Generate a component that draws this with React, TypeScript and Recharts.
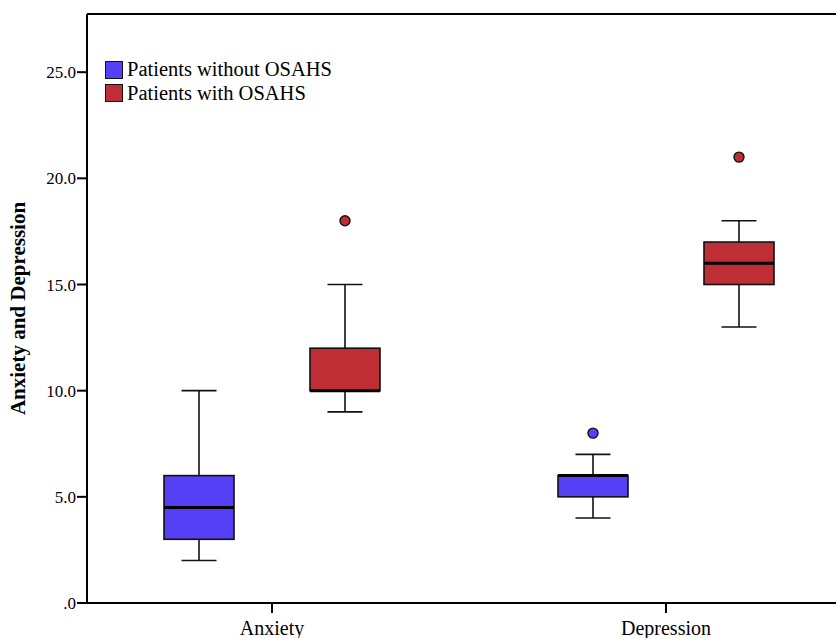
import { Bar, BarChart, Legend, ReferenceLine, XAxis, YAxis } from "recharts";

const categories = ["Anxiety", "Depression"];
const seriesNames = ["Patients without OSAHS", "Patients with OSAHS"];

// box statistics per category
const withoutLow = [2, 4];
const withoutQ1 = [3, 5];
const withoutMedian = [4.5, 6];
const withoutQ3 = [6, 6];
const withoutHigh = [10, 7];
const withoutOutliers = [[], [8]];

const withLow = [9, 13];
const withQ1 = [10, 15];
const withMedian = [10, 16];
const withQ3 = [12, 17];
const withHigh = [15, 18];
const withOutliers = [[18], [21]];

const yTicks = [0, 5, 10, 15, 20, 25];
const yMax = 27.74;

const FONT = '"Liberation Serif", "Times New Roman", serif';
const BLUE = "#5540F5";
const RED = "#BD2E35";

const data = categories.map((category, i) => ({
  category,
  without: [withoutLow[i], withoutHigh[i]],
  with: [withLow[i], withHigh[i]],
}));

type Stats = {
  low: number[];
  q1: number[];
  median: number[];
  q3: number[];
  high: number[];
  outliers: number[][];
};

const statsBySeries: Record<string, Stats> = {
  without: {
    low: withoutLow,
    q1: withoutQ1,
    median: withoutMedian,
    q3: withoutQ3,
    high: withoutHigh,
    outliers: withoutOutliers,
  },
  with: {
    low: withLow,
    q1: withQ1,
    median: withMedian,
    q3: withQ3,
    high: withHigh,
    outliers: withOutliers,
  },
};

// The bar itself spans low..high whisker range; everything else is placed on the same pixel scale.
function BoxShape(props: any) {
  const { x, y, width, height, index, fill, series } = props;
  const s = statsBySeries[series];
  const low = s.low[index];
  const high = s.high[index];
  const top = Math.min(y, y + height);
  const bottom = Math.max(y, y + height);
  const px = (v: number) => bottom - ((v - low) * (bottom - top)) / (high - low);
  const cx = x + width / 2;
  const cap = width / 4;
  const yQ1 = px(s.q1[index]);
  const yQ3 = px(s.q3[index]);
  const yMed = px(s.median[index]);
  return (
    <g>
      <line x1={cx} x2={cx} y1={px(high)} y2={yQ3} stroke="#111" strokeWidth={1.6} />
      <line x1={cx} x2={cx} y1={yQ1} y2={px(low)} stroke="#111" strokeWidth={1.6} />
      <line x1={cx - cap} x2={cx + cap} y1={px(high)} y2={px(high)} stroke="#111" strokeWidth={1.6} />
      <line x1={cx - cap} x2={cx + cap} y1={px(low)} y2={px(low)} stroke="#111" strokeWidth={1.6} />
      <rect x={x} y={yQ3} width={width} height={yQ1 - yQ3} fill={fill} stroke="#111" strokeWidth={1.6} />
      <line x1={x} x2={x + width} y1={yMed} y2={yMed} stroke="#000" strokeWidth={3} />
      {s.outliers[index].map((v) => (
        <circle key={v} cx={cx} cy={px(v)} r={5} fill={fill} stroke="#111" strokeWidth={1.4} />
      ))}
    </g>
  );
}

function LegendBox({ payload }: any) {
  const items = [...(payload || [])].sort(
    (a: any, b: any) => seriesNames.indexOf(a.value) - seriesNames.indexOf(b.value)
  );
  return (
    <div style={{ fontFamily: FONT, fontSize: 20.5, color: "#000" }}>
      {items.map((p: any) => (
        <div key={p.value} style={{ display: "flex", alignItems: "center", height: 23.5 }}>
          <span
            style={{
              display: "inline-block",
              width: 16,
              height: 16,
              background: p.color,
              border: "1.5px solid #111",
              marginRight: 4,
            }}
          />
          <span>{p.value}</span>
        </div>
      ))}
    </div>
  );
}

function YLabel({ viewBox }: any) {
  const cx = 18;
  const cy = viewBox.y + viewBox.height / 2;
  return (
    <text
      x={cx}
      y={cy}
      transform={`rotate(-90, ${cx}, ${cy})`}
      textAnchor="middle"
      dominantBaseline="central"
      fontFamily={FONT}
      fontWeight="bold"
      fontSize={21}
      fill="#000"
    >
      Anxiety and Depression
    </text>
  );
}

export default function App() {
  return (
    <div style={{ position: "absolute", left: 0, top: 0, width: 836, height: 638, background: "#fff" }}>
      <BarChart
        width={836}
        height={638}
        data={data}
        margin={{ top: 14, right: 0, bottom: 5, left: 0 }}
        barSize={70}
        barGap={76}
      >
        <XAxis
          dataKey="category"
          height={30}
          padding={{ left: -12, right: -27 }}
          stroke="#000"
          strokeWidth={2}
          tickSize={10}
          tickMargin={8}
          tick={{ fill: "#000", fontFamily: FONT, fontSize: 20 }}
        />
        <YAxis
          width={87}
          domain={[0, yMax]}
          ticks={yTicks}
          stroke="#000"
          strokeWidth={2}
          tickSize={10}
          tickMargin={1}
          tick={{ fill: "#000", fontFamily: FONT, fontSize: 17 }}
          tickFormatter={(v: number) => (v === 0 ? ".0" : v.toFixed(1))}
          label={<YLabel />}
        />
        <ReferenceLine y={yMax} stroke="#000" strokeWidth={2} />
        <Legend
          layout="vertical"
          align="center"
          verticalAlign="middle"
          content={<LegendBox />}
          wrapperStyle={{ position: "absolute", left: 105, top: 58, width: "auto" }}
        />
        <Bar
          dataKey="without"
          name={seriesNames[0]}
          fill={BLUE}
          isAnimationActive={false}
          shape={(p: any) => <BoxShape {...p} series="without" />}
        />
        <Bar
          dataKey="with"
          name={seriesNames[1]}
          fill={RED}
          isAnimationActive={false}
          shape={(p: any) => <BoxShape {...p} series="with" />}
        />
      </BarChart>
    </div>
  );
}
